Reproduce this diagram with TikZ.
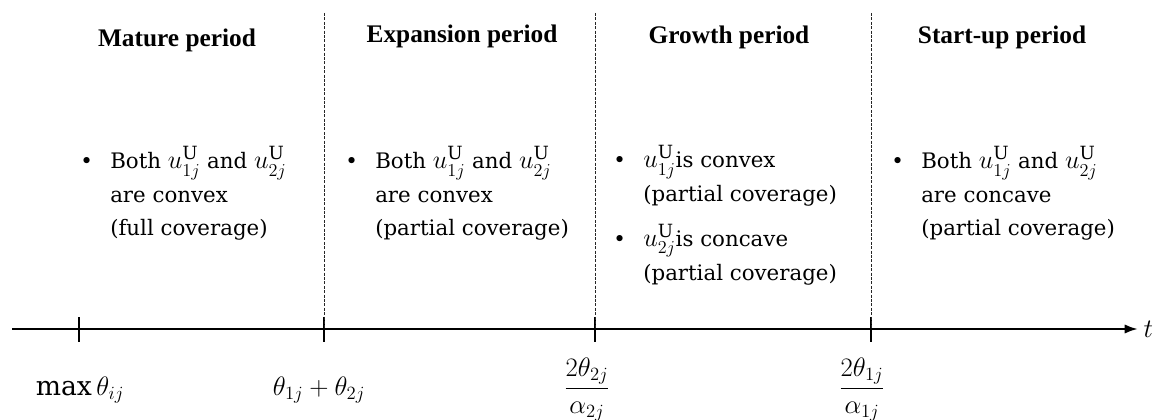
\RequirePackage{fix-cm}
\documentclass[tikz,border=0pt]{standalone}
\usepackage{amsmath}
\usepackage{fontspec}
\setmainfont{DejaVu Serif}
\newfontfamily\headfont{Liberation Serif}
\usetikzlibrary{positioning,arrows.meta}

\newcommand{\bpoint}{\makebox[0pt][r]{\textbullet\hspace{13pt}}}
\newcommand{\uu}[1]{{\fontsize{19.5}{24.75}\selectfont$u^{\mathrm{U}}_{#1}$}}

\begin{document}
\begin{tikzpicture}[x=0.75pt,y=-0.75pt,
    period/.style={font=\headfont\bfseries\fontsize{19}{23}\selectfont, inner sep=0pt, anchor=base},
    note/.style={font=\fontsize{16}{24.75}\selectfont, inner sep=0pt, anchor=base west},
    ticklabel/.style={font=\fontsize{20}{24}\selectfont, inner sep=0pt, anchor=base},
    axis/.style={line width=1.8pt, -{Latex[length=10pt,width=7pt]}},
    tickmark/.style={line width=0.8pt},
    divider/.style={line width=0.7pt, dash pattern=on 2.2pt off 1.1pt, black!85}]
\useasboundingbox (0,0) rectangle (1155,420);

% time axis
\coordinate (tstart) at (12,329);
\coordinate (tend) at (1138,329);
\coordinate (top) at (0,13);
\foreach \x [count=\i] in {79,324,595,871}
    \coordinate (t\i) at (\x,329);
\draw[axis] (tstart) -- (tend);
\node[right=4pt of tend, inner sep=0pt, font=\fontsize{20}{24}\selectfont] (tlab) {$t$};
\foreach \i in {1,...,4}
    \draw[tickmark] ([yshift=9pt]t\i) -- ([yshift=-9.5pt]t\i);
\foreach \i in {2,3,4}
    \draw[divider] (t\i |- top) -- (t\i);

% periods
\node[period] (mature) at (177,47) {Mature period};
\node[period] (expansion) at (462,43) {Expansion period};
\node[period] (growth) at (729,44) {Growth period};
\node[period] (startup) at (1002,44) {Start-up period};

\node[note] (maturetxt) at (110,169) {\begin{tabular}[t]{@{}l@{}}
    \bpoint Both \uu{1j} and \uu{2j}\\
    are convex\\
    (full coverage)
\end{tabular}};
\node[note] (expansiontxt) at (375,169) {\begin{tabular}[t]{@{}l@{}}
    \bpoint Both \uu{1j} and \uu{2j}\\
    are convex\\
    (partial coverage)
\end{tabular}};
\node[note] (growthtxt) at (643,168) {\begin{tabular}[t]{@{}l@{}}
    \bpoint \uu{1j}is convex\\
    (partial coverage)\\[9pt]
    \bpoint \uu{2j}is concave\\
    (partial coverage)
\end{tabular}};
\node[note] (startuptxt) at (921,169) {\begin{tabular}[t]{@{}l@{}}
    \bpoint Both \uu{1j} and \uu{2j}\\
    are concave\\
    (partial coverage)
\end{tabular}};

% points on the axis
\node[ticklabel] (l1) at (80,395) {$\max\theta_{ij}$};
\node[ticklabel] (l2) at (319,395) {$\theta_{1j}+\theta_{2j}$};
\node[ticklabel] (l3) at (587,395) {$\dfrac{2\theta_{2j}}{\alpha_{2j}}$};
\node[ticklabel] (l4) at (862,395) {$\dfrac{2\theta_{1j}}{\alpha_{1j}}$};
\end{tikzpicture}
\end{document}
